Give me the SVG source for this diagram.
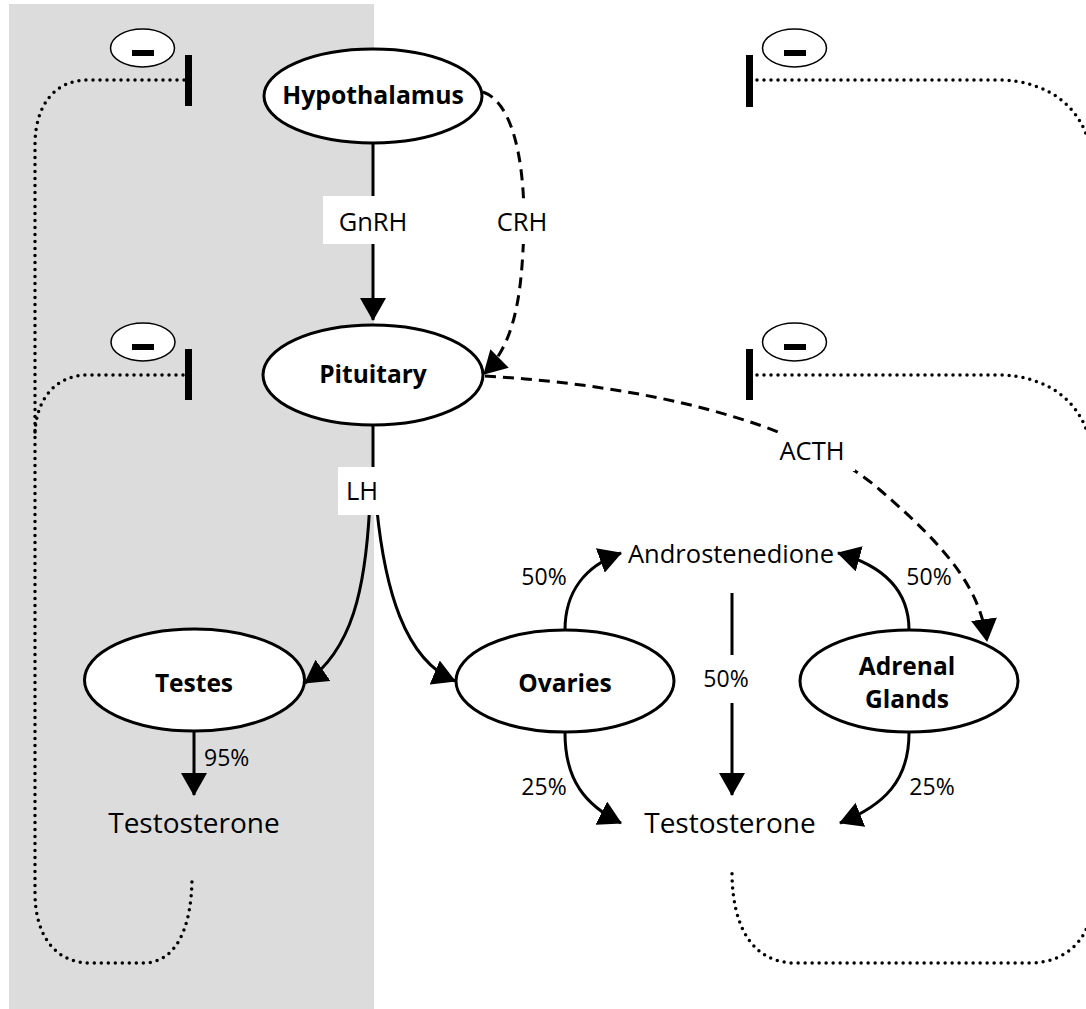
<svg xmlns="http://www.w3.org/2000/svg" width="1086" height="1009" viewBox="0 0 1086 1009">
<defs>
<marker id="ah" markerUnits="userSpaceOnUse" markerWidth="24" markerHeight="26" viewBox="0 0 24 26" refX="22" refY="13" orient="auto">
<path d="M0,0 L23,13 L0,26 z" fill="#000"/>
</marker>
<style>
.node{fill:#fff;stroke:#000;stroke-width:3}
.nl{font-family:"Open Sans","Noto Sans","DejaVu Sans",sans-serif;font-weight:bold;font-size:24.5px;text-anchor:middle;fill:#000}
.lbl{font-family:"Open Sans","Noto Sans","DejaVu Sans",sans-serif;font-size:25.5px;text-anchor:middle;fill:#000}
.pct{font-family:"Open Sans","Noto Sans","DejaVu Sans",sans-serif;font-size:23px;text-anchor:middle;fill:#000}
.big{font-family:"Open Sans","Noto Sans","DejaVu Sans",sans-serif;font-size:28px;text-anchor:middle;fill:#000}
.mid{font-family:"Open Sans","Noto Sans","DejaVu Sans",sans-serif;font-size:25.5px;text-anchor:middle;fill:#000}
.solid{fill:none;stroke:#000;stroke-width:3}
.dash{fill:none;stroke:#000;stroke-width:3;stroke-dasharray:11 7}
.dot{fill:none;stroke:#000;stroke-width:3.5;stroke-dasharray:0 7;stroke-linecap:round}
.minus{fill:#fff;stroke:#000;stroke-width:1.5}
.box{fill:#fff}
</style>
</defs>
<rect x="9" y="4" width="365" height="1005" fill="#dcdcdc"/>

<g id="feedback">
<path class="dot" d="M184,80 H88 C55,80 35,105 35,145 V893 C35,935 55,963 90,963 H143 C175,963 192,930 192,876"/>
<path class="dot" d="M183,375 H88 C55,375 36,400 35,433"/>
<path class="dot" d="M757,80 H997 C1050,80 1090,110 1092,165 V905 C1090,940 1065,963 1030,963 H795 C755,963 732,930 732,872"/>
<path class="dot" d="M757,375 H997 C1050,375 1090,405 1092,460"/>
<rect x="185" y="55" width="7" height="51" fill="#000"/>
<rect x="185" y="349" width="7" height="51" fill="#000"/>
<rect x="746" y="55" width="7" height="52" fill="#000"/>
<rect x="746" y="349" width="7" height="51" fill="#000"/>
<ellipse class="minus" cx="142.5" cy="48" rx="32" ry="19"/>
<rect x="132" y="50" width="22" height="6" fill="#000"/>
<ellipse class="minus" cx="143" cy="342" rx="32" ry="19"/>
<rect x="132" y="344" width="22" height="6" fill="#000"/>
<ellipse class="minus" cx="794.5" cy="48" rx="32" ry="19"/>
<rect x="784" y="50" width="22" height="6" fill="#000"/>
<ellipse class="minus" cx="794.5" cy="342" rx="32" ry="19"/>
<rect x="784" y="344" width="22" height="6" fill="#000"/>
</g>

<g id="connectors">
<line class="solid" x1="373" y1="142" x2="373" y2="320" marker-end="url(#ah)"/>
<rect class="box" x="323" y="196" width="100" height="48"/>
<text class="lbl" x="373" y="231">GnRH</text>

<path class="dash" d="M483,92 C520,105 527,190 523,250 C520,310 510,348 484,374" marker-end="url(#ah)"/>
<rect class="box" x="497" y="200" width="51" height="44"/>
<text class="lbl" x="522" y="231">CRH</text>

<path class="dash" d="M485,376 C640,385 800,420 880,490 C950,550 980,590 987,641" marker-end="url(#ah)"/>
<rect class="box" x="770" y="433" width="85" height="38"/>
<text class="lbl" x="812" y="460">ACTH</text>

<line class="solid" x1="373" y1="425" x2="373" y2="500"/>
<path class="solid" d="M370,500 C366,590 352,650 305,683" marker-end="url(#ah)"/>
<path class="solid" d="M376,500 C384,590 405,660 455,681" marker-end="url(#ah)"/>
<rect class="box" x="338" y="467" width="48" height="48"/>
<text class="lbl" x="362" y="500">LH</text>

<line class="solid" x1="194" y1="732" x2="194" y2="795" marker-end="url(#ah)"/>
<text class="pct" x="204" y="766" style="text-anchor:start">95%</text>

<path class="solid" d="M565,630 C565,592 585,566 621,553" marker-end="url(#ah)"/>
<text class="pct" x="544" y="585">50%</text>
<path class="solid" d="M909,630 C909,592 885,566 838,553" marker-end="url(#ah)"/>
<text class="pct" x="929" y="585">50%</text>

<line class="solid" x1="732" y1="593" x2="732" y2="655"/>
<line class="solid" x1="732" y1="703" x2="732" y2="795" marker-end="url(#ah)"/>
<text class="pct" x="726" y="687">50%</text>

<path class="solid" d="M565,733 C565,780 585,805 621,823" marker-end="url(#ah)"/>
<text class="pct" x="544" y="795">25%</text>
<path class="solid" d="M909,733 C909,780 885,805 840,823" marker-end="url(#ah)"/>
<text class="pct" x="932" y="795">25%</text>
</g>

<g id="hypothalamus">
<ellipse class="node" cx="373" cy="96" rx="109" ry="47"/>
<text class="nl" x="373" y="104" style="font-size:24.8px">Hypothalamus</text>
</g>
<g id="pituitary">
<ellipse class="node" cx="373" cy="375" rx="110" ry="50"/>
<text class="nl" x="373" y="383">Pituitary</text>
</g>
<g id="testes">
<ellipse class="node" cx="194.5" cy="680" rx="110" ry="51"/>
<text class="nl" x="194" y="692">Testes</text>
</g>
<g id="ovaries">
<ellipse class="node" cx="565" cy="681" rx="109" ry="51"/>
<text class="nl" x="565" y="692">Ovaries</text>
</g>
<g id="adrenal">
<ellipse class="node" cx="909" cy="681" rx="109" ry="51"/>
<text class="nl" x="907" y="675">Adrenal</text>
<text class="nl" x="907" y="708">Glands</text>
</g>
<g id="androstenedione">
<text class="mid" x="731" y="563">Androstenedione</text>
</g>
<g id="testosterone-left">
<text class="big" x="194" y="833">Testosterone</text>
</g>
<g id="testosterone-right">
<text class="big" x="730" y="833">Testosterone</text>
</g>
</svg>
